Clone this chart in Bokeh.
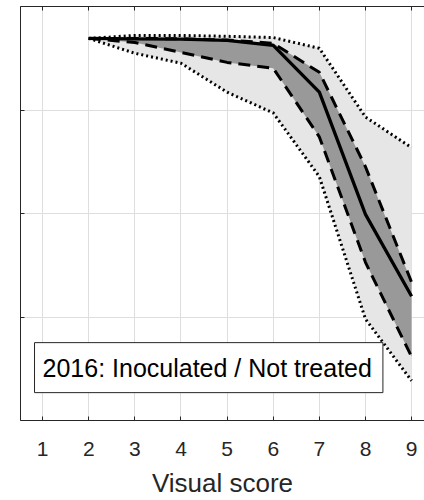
from bokeh.plotting import figure
from bokeh.models import Range1d, FixedTicker, LinearAxis, Label
from bokeh.embed import file_html
from bokeh.resources import INLINE

# Visual score (x) and series values (percent)
scores = [2, 3, 4, 5, 6, 7, 8, 9]
mean_vals = [92.3, 92.2, 92.1, 91.8, 90.6, 79.3, 49.8, 30.0]
inner_upper = [92.3, 92.3, 92.2, 91.9, 91.1, 84.1, 61.3, 33.4]
inner_lower = [92.3, 91.3, 88.9, 86.5, 85.1, 68.5, 38.2, 15.4]
outer_upper = [92.3, 93.0, 93.0, 92.8, 92.5, 89.9, 73.3, 65.9]
outer_lower = [92.3, 88.7, 86.3, 79.3, 74.3, 58.9, 24.5, 9.6]
x_ticks = [1, 2, 3, 4, 5, 6, 7, 8, 9]
y_ticks = [0, 25, 50, 75, 100]
legend_text = "2016: Inoculated / Not treated"
x_title = "Visual score"

FONT = "Liberation Sans"
AX = "#262626"

p = figure(width=424, height=500, x_range=Range1d(0.52, 9.28), y_range=Range1d(0, 100),
           output_backend="svg", toolbar_location=None,
           min_border_left=20, min_border_right=0, min_border_top=6, min_border_bottom=78)
p.outline_line_color = None
p.background_fill_color = "white"
p.border_fill_color = "white"

# grids
p.xgrid.ticker = FixedTicker(ticks=x_ticks)
p.ygrid.ticker = FixedTicker(ticks=y_ticks)
for g in (p.xgrid, p.ygrid):
    g.grid_line_color = "#dedede"
    g.grid_line_width = 1

# bottom axis
xa = p.xaxis[0]
xa.ticker = FixedTicker(ticks=x_ticks)
xa.axis_line_color = AX
xa.major_tick_line_color = AX
xa.major_tick_in = 4
xa.major_tick_out = 0
xa.minor_tick_line_color = None
xa.major_label_text_font = FONT
xa.major_label_text_font_size = "21px"
xa.major_label_text_color = AX
xa.major_label_standoff = 21
xa.axis_label = x_title
xa.axis_label_text_font = FONT
xa.axis_label_text_font_size = "26px"
xa.axis_label_text_font_style = "normal"
xa.axis_label_text_color = AX
xa.axis_label_standoff = 9

# left axis (no labels)
ya = p.yaxis[0]
ya.ticker = FixedTicker(ticks=y_ticks)
ya.axis_line_color = AX
ya.major_tick_line_color = AX
ya.major_tick_in = 4
ya.major_tick_out = 0
ya.minor_tick_line_color = None
ya.major_label_text_font_size = "0px"
ya.major_label_standoff = 0

# top axis (box)
top = LinearAxis(ticker=FixedTicker(ticks=x_ticks), axis_line_color=AX,
                 major_tick_line_color=AX, major_tick_in=4, major_tick_out=0,
                 minor_tick_line_color=None, major_label_text_font_size="0px",
                 major_label_standoff=0)
p.add_layout(top, "above")

# bands
p.varea(x=scores, y1=outer_lower, y2=outer_upper, fill_color="#e6e6e6")
p.varea(x=scores, y1=inner_lower, y2=inner_upper, fill_color="#999999")

# lines
p.line(scores, outer_upper, line_color="black", line_width=3, line_dash="2 3")
p.line(scores, outer_lower, line_color="black", line_width=3, line_dash="2 3")
p.line(scores, inner_upper, line_color="black", line_width=3, line_dash="12 7")
p.line(scores, inner_lower, line_color="black", line_width=3, line_dash="12 7")
p.line(scores, mean_vals, line_color="black", line_width=3.3)

# legend-like box
p.add_layout(Label(x=0.824, y=6.73, text=legend_text,
                   text_font=FONT, text_font_size="25px", text_color="black",
                   text_align="left", text_baseline="bottom",
                   background_fill_color="white", border_line_color=AX,
                   border_line_width=1,
                   padding=dict(left=8, right=11, top=11, bottom=11)))

open("out.html", "w").write(file_html(p, INLINE))
